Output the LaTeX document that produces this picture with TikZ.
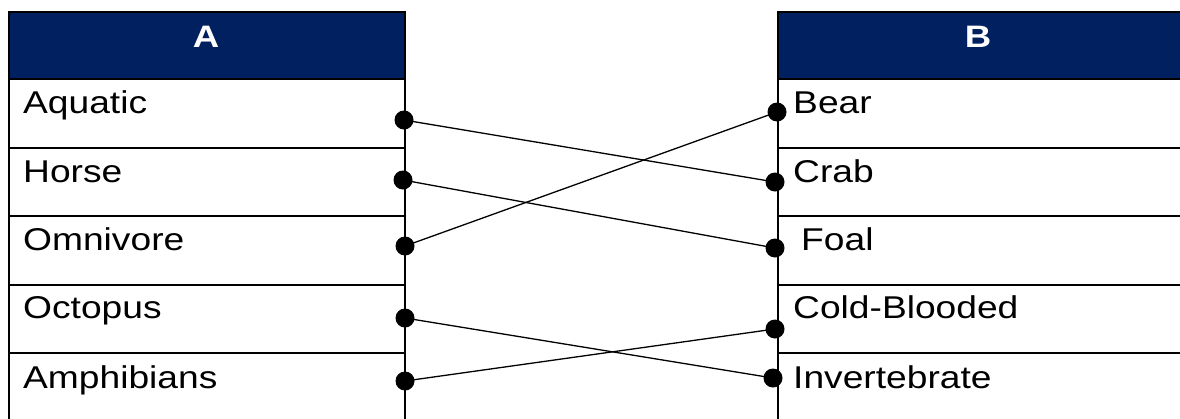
\documentclass[tikz,border=0pt]{standalone}
\usepackage{fontspec}
\setmainfont{Liberation Sans}
\definecolor{hdrblue}{HTML}{00205F}
\newcommand{\wtxt}[1]{\scalebox{1.18}[1]{\fontsize{31.5}{36}\selectfont #1}}
\newcommand{\htxt}[1]{\scalebox{1.18}[1]{\fontsize{31}{36}\selectfont\bfseries #1}}
\tikzset{
  hdr/.style={draw=black, line width=2pt, fill=hdrblue, anchor=north west, minimum height=67pt, inner sep=0pt},
  cell/.style={draw=black, line width=2pt, anchor=north west, minimum height=68.5pt, inner sep=0pt},
  lbl/.style={anchor=base west, inner sep=0pt},
  hlbl/.style={anchor=base, inner sep=0pt, text=white},
  dot/.style={circle, fill=black, minimum width=17pt, minimum height=19pt, inner sep=0pt},
  link/.style={line width=1.3pt, black}
}
\begin{document}
\begin{tikzpicture}[x=1pt,y=1pt]
\useasboundingbox (0,0) rectangle (1180,-418);
% left table
\node[hdr, minimum width=396pt] (hA) at (8,-11) {};
\node[cell, minimum width=396pt] (a1) at (8,-78) {};
\node[cell, minimum width=396pt] (a2) at (8,-146.5) {};
\node[cell, minimum width=396pt] (a3) at (8,-215) {};
\node[cell, minimum width=396pt] (a4) at (8,-283.5) {};
\node[cell, minimum width=396pt] (a5) at (8,-352) {};
% right table
\node[hdr, minimum width=410pt] (hB) at (777,-11) {};
\node[cell, minimum width=410pt] (b1) at (777,-78) {};
\node[cell, minimum width=410pt] (b2) at (777,-146.5) {};
\node[cell, minimum width=410pt] (b3) at (777,-215) {};
\node[cell, minimum width=410pt] (b4) at (777,-283.5) {};
\node[cell, minimum width=410pt] (b5) at (777,-352) {};
% headers
\node[hlbl] (tA) at (206,-47) {\htxt{A}};
\node[hlbl] (tB) at (978,-47) {\htxt{B}};
% left labels
\node[lbl] (la1) at (23,-113) {\wtxt{Aquatic}};
\node[lbl] (la2) at (23,-182) {\wtxt{Horse}};
\node[lbl] (la3) at (23,-250) {\wtxt{Omnivore}};
\node[lbl] (la4) at (23,-318) {\wtxt{Octopus}};
\node[lbl] (la5) at (23,-388) {\wtxt{Amphibians}};
% right labels
\node[lbl] (lb1) at (793,-113) {\wtxt{Bear}};
\node[lbl] (lb2) at (793,-182) {\wtxt{Crab}};
\node[lbl] (lb3) at (801,-250) {\wtxt{Foal}};
\node[lbl] (lb4) at (793,-318) {\wtxt{Cold-Blooded}};
\node[lbl] (lb5) at (793,-388) {\wtxt{Invertebrate}};
% dots
\node[dot] (da1) at (404,-120) {};
\node[dot] (da2) at (403,-180) {};
\node[dot] (da3) at (405,-246) {};
\node[dot] (da4) at (405,-318) {};
\node[dot] (da5) at (405,-381) {};
\node[dot] (db1) at (777,-112) {};
\node[dot] (db2) at (775,-182) {};
\node[dot] (db3) at (775,-248) {};
\node[dot] (db4) at (775,-329) {};
\node[dot] (db5) at (773,-378) {};
% links
\draw[link] (da1.center) -- (db2.center);
\draw[link] (da2.center) -- (db3.center);
\draw[link] (da3.center) -- (db1.center);
\draw[link] (da4.center) -- (db5.center);
\draw[link] (da5.center) -- (db4.center);
\end{tikzpicture}
\end{document}
